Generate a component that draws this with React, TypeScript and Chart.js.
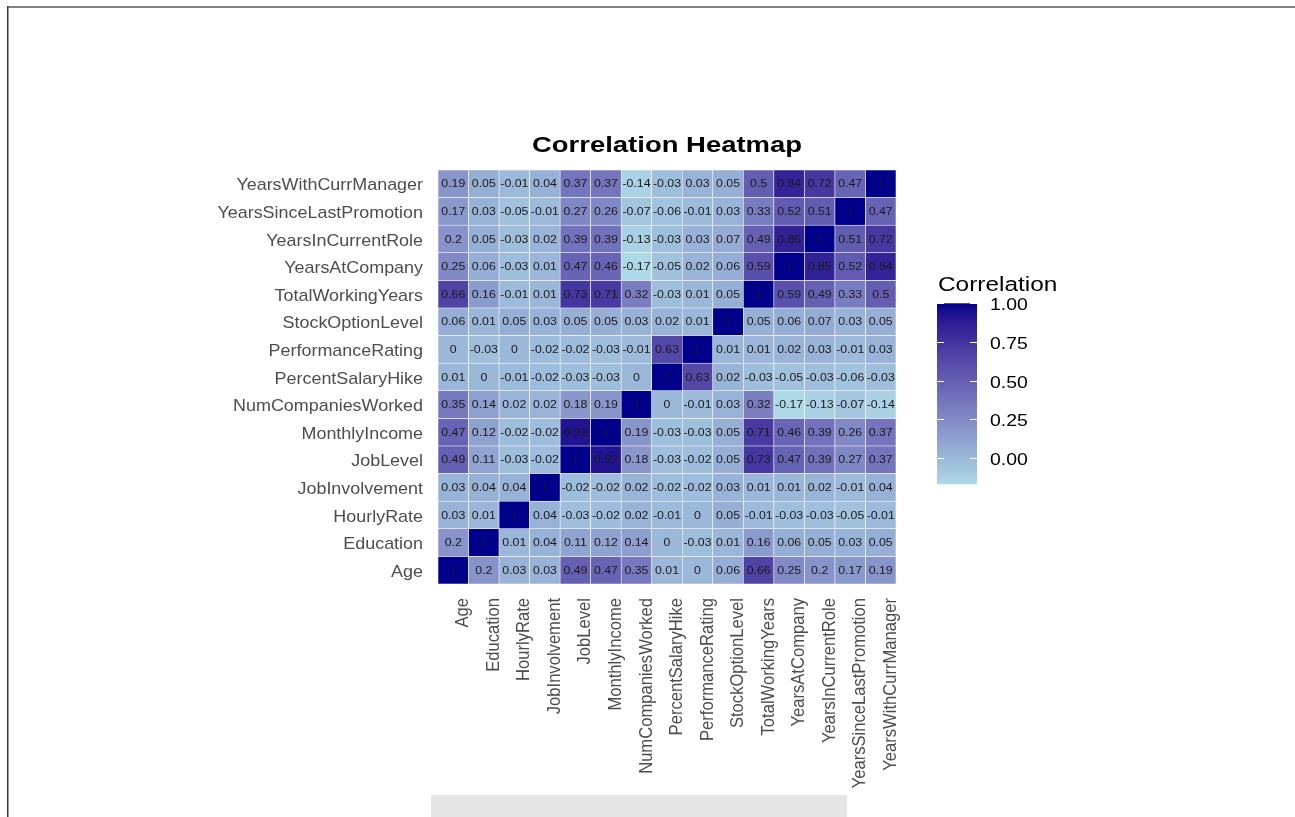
import React, { useEffect, useRef } from "react";
import { Chart, registerables } from "chart.js";

Chart.register(...registerables);

// ---------------- data ----------------
const variables = [
  "Age",
  "Education",
  "HourlyRate",
  "JobInvolvement",
  "JobLevel",
  "MonthlyIncome",
  "NumCompaniesWorked",
  "PercentSalaryHike",
  "PerformanceRating",
  "StockOptionLevel",
  "TotalWorkingYears",
  "YearsAtCompany",
  "YearsInCurrentRole",
  "YearsSinceLastPromotion",
  "YearsWithCurrManager",
];

// each row lists correlations against variables in the order above
const rowAge = [1, 0.2, 0.03, 0.03, 0.49, 0.47, 0.35, 0.01, 0, 0.06, 0.66, 0.25, 0.2, 0.17, 0.19];
const rowEducation = [0.2, 1, 0.01, 0.04, 0.11, 0.12, 0.14, 0, -0.03, 0.01, 0.16, 0.06, 0.05, 0.03, 0.05];
const rowHourlyRate = [0.03, 0.01, 1, 0.04, -0.03, -0.02, 0.02, -0.01, 0, 0.05, -0.01, -0.03, -0.03, -0.05, -0.01];
const rowJobInvolvement = [0.03, 0.04, 0.04, 1, -0.02, -0.02, 0.02, -0.02, -0.02, 0.03, 0.01, 0.01, 0.02, -0.01, 0.04];
const rowJobLevel = [0.49, 0.11, -0.03, -0.02, 1, 0.92, 0.18, -0.03, -0.02, 0.05, 0.73, 0.47, 0.39, 0.27, 0.37];
const rowMonthlyIncome = [0.47, 0.12, -0.02, -0.02, 0.92, 1, 0.19, -0.03, -0.03, 0.05, 0.71, 0.46, 0.39, 0.26, 0.37];
const rowNumCompaniesWorked = [0.35, 0.14, 0.02, 0.02, 0.18, 0.19, 1, 0, -0.01, 0.03, 0.32, -0.17, -0.13, -0.07, -0.14];
const rowPercentSalaryHike = [0.01, 0, -0.01, -0.02, -0.03, -0.03, 0, 1, 0.63, 0.02, -0.03, -0.05, -0.03, -0.06, -0.03];
const rowPerformanceRating = [0, -0.03, 0, -0.02, -0.02, -0.03, -0.01, 0.63, 1, 0.01, 0.01, 0.02, 0.03, -0.01, 0.03];
const rowStockOptionLevel = [0.06, 0.01, 0.05, 0.03, 0.05, 0.05, 0.03, 0.02, 0.01, 1, 0.05, 0.06, 0.07, 0.03, 0.05];
const rowTotalWorkingYears = [0.66, 0.16, -0.01, 0.01, 0.73, 0.71, 0.32, -0.03, 0.01, 0.05, 1, 0.59, 0.49, 0.33, 0.5];
const rowYearsAtCompany = [0.25, 0.06, -0.03, 0.01, 0.47, 0.46, -0.17, -0.05, 0.02, 0.06, 0.59, 1, 0.85, 0.52, 0.84];
const rowYearsInCurrentRole = [0.2, 0.05, -0.03, 0.02, 0.39, 0.39, -0.13, -0.03, 0.03, 0.07, 0.49, 0.85, 1, 0.51, 0.72];
const rowYearsSinceLastPromotion = [0.17, 0.03, -0.05, -0.01, 0.27, 0.26, -0.07, -0.06, -0.01, 0.03, 0.33, 0.52, 0.51, 1, 0.47];
const rowYearsWithCurrManager = [0.19, 0.05, -0.01, 0.04, 0.37, 0.37, -0.14, -0.03, 0.03, 0.05, 0.5, 0.84, 0.72, 0.47, 1];

const matrix = [
  rowAge,
  rowEducation,
  rowHourlyRate,
  rowJobInvolvement,
  rowJobLevel,
  rowMonthlyIncome,
  rowNumCompaniesWorked,
  rowPercentSalaryHike,
  rowPerformanceRating,
  rowStockOptionLevel,
  rowTotalWorkingYears,
  rowYearsAtCompany,
  rowYearsInCurrentRole,
  rowYearsSinceLastPromotion,
  rowYearsWithCurrManager,
];

const legendBreaks = [0, 0.25, 0.5, 0.75, 1];
const titleText = "Correlation Heatmap";
const legendTitle = "Correlation";

// ---------------- colour scale (Lab interpolation, like ggplot) ----------------
const LOW = [173, 216, 230]; // lightblue
const HIGH = [0, 0, 139]; // darkblue
const allValues = matrix.flat();
const vMin = Math.min(...allValues);
const vMax = Math.max(...allValues);

function toLin(c: number) {
  c /= 255;
  return c <= 0.04045 ? c / 12.92 : Math.pow((c + 0.055) / 1.055, 2.4);
}
function fromLin(c: number) {
  const v = c <= 0.0031308 ? 12.92 * c : 1.055 * Math.pow(c, 1 / 2.4) - 0.055;
  return Math.max(0, Math.min(255, Math.round(v * 255)));
}
const Xn = 0.95047, Yn = 1, Zn = 1.08883;
function fLab(t: number) {
  return t > 0.008856 ? Math.cbrt(t) : 7.787 * t + 16 / 116;
}
function fInv(t: number) {
  const t3 = t * t * t;
  return t3 > 0.008856 ? t3 : (t - 16 / 116) / 7.787;
}
function rgbToLab(rgb: number[]) {
  const r = toLin(rgb[0]), g = toLin(rgb[1]), b = toLin(rgb[2]);
  const X = 0.4124 * r + 0.3576 * g + 0.1805 * b;
  const Y = 0.2126 * r + 0.7152 * g + 0.0722 * b;
  const Z = 0.0193 * r + 0.1192 * g + 0.9505 * b;
  const fx = fLab(X / Xn), fy = fLab(Y / Yn), fz = fLab(Z / Zn);
  return [116 * fy - 16, 500 * (fx - fy), 200 * (fy - fz)];
}
function labToRgb(lab: number[]) {
  const fy = (lab[0] + 16) / 116;
  const fx = fy + lab[1] / 500;
  const fz = fy - lab[2] / 200;
  const X = Xn * fInv(fx), Y = Yn * fInv(fy), Z = Zn * fInv(fz);
  const r = 3.2406 * X - 1.5372 * Y - 0.4986 * Z;
  const g = -0.9689 * X + 1.8758 * Y + 0.0415 * Z;
  const b = 0.0557 * X - 0.204 * Y + 1.057 * Z;
  return [fromLin(r), fromLin(g), fromLin(b)];
}
const labLow = rgbToLab(LOW);
const labHigh = rgbToLab(HIGH);
function fillColor(v: number) {
  const t = Math.max(0, Math.min(1, (v - vMin) / (vMax - vMin)));
  const lab = [0, 1, 2].map((k) => labLow[k] + (labHigh[k] - labLow[k]) * t);
  const c = labToRgb(lab);
  return `rgb(${c[0]},${c[1]},${c[2]})`;
}

// ---------------- drawing helpers ----------------
const FONT = "'Liberation Sans', Arial, sans-serif";

function drawText(
  ctx: CanvasRenderingContext2D,
  text: string,
  x: number,
  y: number,
  font: string,
  color: string,
  align: CanvasTextAlign,
  baseline: CanvasTextBaseline,
  sx = 1
) {
  ctx.save();
  ctx.translate(x, y);
  ctx.scale(sx, 1);
  ctx.font = font;
  ctx.fillStyle = color;
  ctx.textAlign = align;
  ctx.textBaseline = baseline;
  ctx.fillText(text, 0, 0);
  ctx.restore();
}

const decorPlugin = {
  id: "decor",
  beforeDraw(chart: any) {
    const ctx = chart.ctx as CanvasRenderingContext2D;
    ctx.save();
    ctx.fillStyle = "#ffffff";
    ctx.fillRect(0, 0, chart.width, chart.height);
    // page frame
    ctx.fillStyle = "#808080";
    ctx.fillRect(7, 6, chart.width - 7, 2);
    ctx.fillStyle = "#3a3a3a";
    ctx.fillRect(7, 6, 1.5, chart.height - 6);
    // faded strip at the bottom
    ctx.fillStyle = "#e6e6e6";
    ctx.fillRect(431, 795, 416, 22);
    ctx.restore();
  },
  afterDatasetsDraw(chart: any) {
    const ctx = chart.ctx as CanvasRenderingContext2D;
    chart.data.datasets.forEach((ds: any, j: number) => {
      const meta = chart.getDatasetMeta(j);
      meta.data.forEach((el: any, i: number) => {
        const p = el.getProps(["x", "y", "base"], true);
        const cy = (p.y + p.base) / 2;
        const v = matrix[j][i];
        const col = v >= 0.99 ? "#13133a" : "#1a1a1a";
        drawText(ctx, String(v), p.x, cy + 0.5, `11.5px ${FONT}`, col, "center", "middle", 1.07);
      });
    });
  },
  afterDraw(chart: any) {
    const ctx = chart.ctx as CanvasRenderingContext2D;
    const xs = chart.scales.x;
    const ys = chart.scales.y;
    const area = chart.chartArea;

    // y axis labels
    variables.forEach((name, j) => {
      const py = ys.getPixelForValue(j + 0.5);
      drawText(ctx, name, area.left - 15, py + 2, `16.6px ${FONT}`, "#4d4d4d", "right", "middle", 1.08);
    });

    // x axis labels (rotated)
    variables.forEach((name, i) => {
      const px = xs.getPixelForValue(i);
      ctx.save();
      ctx.translate(px + 10, area.bottom + 14);
      ctx.rotate(-Math.PI / 2);
      ctx.scale(1, 1.1);
      ctx.font = `16.6px ${FONT}`;
      ctx.fillStyle = "#4d4d4d";
      ctx.textAlign = "right";
      ctx.textBaseline = "middle";
      ctx.fillText(name, 0, 0);
      ctx.restore();
    });

    // title
    drawText(ctx, titleText, (area.left + area.right) / 2, 152, `bold 22.5px ${FONT}`, "#000000", "center", "alphabetic", 1.22);

    // legend
    const barLeft = 937;
    const barW = 40;
    const barTop = 303.3;
    const pxPerUnit = 154.7;
    const valToY = (v: number) => barTop + (vMax - v) * pxPerUnit;
    const barBottom = valToY(vMin);
    drawText(ctx, legendTitle, 938, 291, `20px ${FONT}`, "#000000", "left", "alphabetic", 1.22);
    const grad = ctx.createLinearGradient(0, barTop, 0, barBottom);
    const steps = 40;
    for (let s = 0; s <= steps; s++) {
      const v = vMax - ((vMax - vMin) * s) / steps;
      grad.addColorStop(s / steps, fillColor(v));
    }
    ctx.fillStyle = grad;
    ctx.fillRect(barLeft, barTop, barW, barBottom - barTop);
    ctx.strokeStyle = "#ffffff";
    ctx.lineWidth = 1;
    legendBreaks.forEach((b) => {
      const y = Math.round(valToY(b)) + 0.5;
      ctx.beginPath();
      ctx.moveTo(barLeft, y);
      ctx.lineTo(barLeft + 7, y);
      ctx.moveTo(barLeft + barW - 7, y);
      ctx.lineTo(barLeft + barW, y);
      ctx.stroke();
      drawText(ctx, b.toFixed(2), 990, y + 1.5, `16.6px ${FONT}`, "#000000", "left", "middle", 1.17);
    });
  },
};

export default function App() {
  const canvasRef = useRef<HTMLCanvasElement | null>(null);

  useEffect(() => {
    document.body.style.margin = "0";
    const canvas = canvasRef.current;
    if (!canvas) return;
    const W = 1295;
    const H = 817;
    const chart = new Chart(canvas, {
      type: "bar",
      data: {
        labels: variables,
        datasets: matrix.map((row, j) => ({
          label: variables[j],
          data: row.map(() => [j, j + 1]),
          backgroundColor: row.map((v) => fillColor(v)),
          borderColor: "#ffffff",
          borderWidth: 0.6,
          borderSkipped: false,
          grouped: false,
          barPercentage: 1,
          categoryPercentage: 1,
        })) as any,
      },
      options: {
        responsive: false,
        animation: false,
        events: [],
        layout: { padding: { left: 438, right: W - 896, top: 170, bottom: H - 584 } },
        scales: {
          x: { type: "category", display: false, offset: true },
          y: { type: "linear", min: 0, max: 15, display: false },
        },
        plugins: {
          legend: { display: false },
          tooltip: { enabled: false },
          title: { display: false },
        },
      },
      plugins: [decorPlugin],
    });
    return () => chart.destroy();
  }, []);

  return (
    <div style={{ width: 1295, height: 817 }}>
      <canvas ref={canvasRef} width={1295} height={817} style={{ display: "block" }} />
    </div>
  );
}
